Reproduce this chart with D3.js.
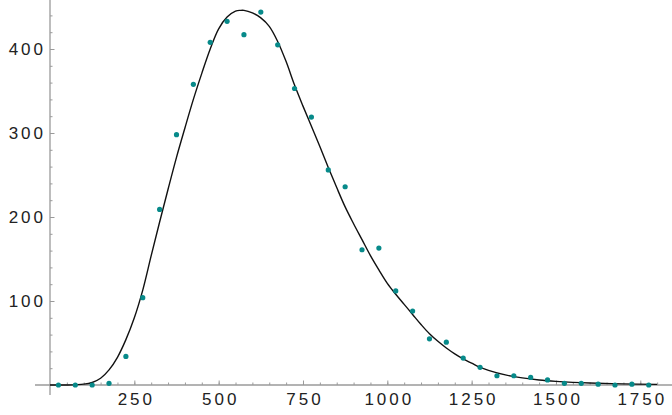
<!DOCTYPE html>
<html>
<head>
<meta charset="utf-8">
<script src="https://cdn.jsdelivr.net/npm/d3@7"></script>
<style>
html,body{margin:0;padding:0;background:#fff;}
svg{display:block;}
.tl text{font-family:"Liberation Sans",Arial,sans-serif;font-size:17px;fill:#222;letter-spacing:3px;}
</style>
</head>
<body>
<svg id="chart" width="672" height="415"></svg>
<script>
// Observed data points
const dataX = [25,75,125,175,225,275,325,375,425,475,525,575,625,675,725,775,825,875,925,975,1025,1075,1125,1175,1225,1275,1325,1375,1425,1475,1525,1575,1625,1675,1725,1775];
const dataY = [0,0,0,2,34,104,209,298,358,408,433,417,444,405,353,319,256,236,161,163,112,88,55,51,32,21,11,11,9,6,2,2,1,0,1,0];

// Fitted curve
const curveX = [0,50,100,125,150,175,200,225,250,275,300,325,350,375,400,425,450,475,500,525,550,565,575,600,625,650,675,700,725,750,775,800,825,850,875,900,925,950,975,1000,1025,1050,1075,1100,1125,1150,1175,1200,1225,1250,1275,1300,1350,1400,1450,1500,1550,1600,1700,1800];
const curveY = [0,0,1,3,8,18,33,54,80,113,154,194,233,271,306,340,371,400,424,438,445,446,446,443,437,427,409,385,357,332,308,284,259,235,212,192,173,154,137,121,108,96,84,72,61,52,44,37,31,26,21,17.5,12,8.5,6,4.3,3.1,2.3,1.3,0.8];

// Axis ticks
const xMajor = [250,500,750,1000,1250,1500,1750];
const yMajor = [100,200,300,400];
const xMinor = d3.range(50,1801,50);
const yMinor = d3.range(20,441,20);

const svg = d3.select("#chart");
const x = d3.scaleLinear().domain([0,1750]).range([50,640.3]);
const y = d3.scaleLinear().domain([0,400]).range([385,49]);

const axisColor = "#9a9a9a";

// axis lines
svg.append("line").attr("x1",35).attr("x2",672).attr("y1",y(0)).attr("y2",y(0))
  .attr("stroke",axisColor).attr("stroke-width",1.3);
svg.append("line").attr("x1",x(0)).attr("x2",x(0)).attr("y1",0).attr("y2",395)
  .attr("stroke",axisColor).attr("stroke-width",1.3);

// minor ticks
const gxm = svg.append("g").attr("transform",`translate(0,${y(0)})`)
  .call(d3.axisBottom(x).tickValues(xMinor).tickSizeInner(-2.5).tickSizeOuter(0).tickFormat(""));
const gym = svg.append("g").attr("transform",`translate(${x(0)},0)`)
  .call(d3.axisLeft(y).tickValues(yMinor).tickSizeInner(-2.5).tickSizeOuter(0).tickFormat(""));
[gxm,gym].forEach(g=>{g.select(".domain").remove();g.selectAll("line").attr("stroke",axisColor).attr("stroke-width",1);});

// major ticks with labels
const gx = svg.append("g").attr("class","tl").attr("transform",`translate(0,${y(0)})`)
  .call(d3.axisBottom(x).tickValues(xMajor).tickSizeInner(-4.5).tickSizeOuter(0).tickPadding(8).tickFormat(d3.format("d")));
const gy = svg.append("g").attr("class","tl").attr("transform",`translate(${x(0)},0)`)
  .call(d3.axisLeft(y).tickValues(yMajor).tickSizeInner(-4.5).tickSizeOuter(0).tickPadding(4).tickFormat(d3.format("d")));
[gx,gy].forEach(g=>{g.select(".domain").remove();g.selectAll("line").attr("stroke",axisColor).attr("stroke-width",1);});
gx.selectAll("text").attr("dx","1.5px").attr("font-family","Liberation Sans").style("font-size","17px");

// curve
const curvePts = curveX.map((d,i)=>[d,curveY[i]]);
svg.append("path").datum(curvePts)
  .attr("fill","none").attr("stroke","#111").attr("stroke-width",1.4)
  .attr("d",d3.line().x(d=>x(d[0])).y(d=>y(d[1])).curve(d3.curveCatmullRom.alpha(0.5)));

// points
svg.append("g").selectAll("circle").data(dataX.map((d,i)=>[d,dataY[i]])).join("circle")
  .attr("cx",d=>x(d[0])).attr("cy",d=>y(d[1])).attr("r",2.6).attr("fill","#078a8a");
</script>
</body>
</html>
